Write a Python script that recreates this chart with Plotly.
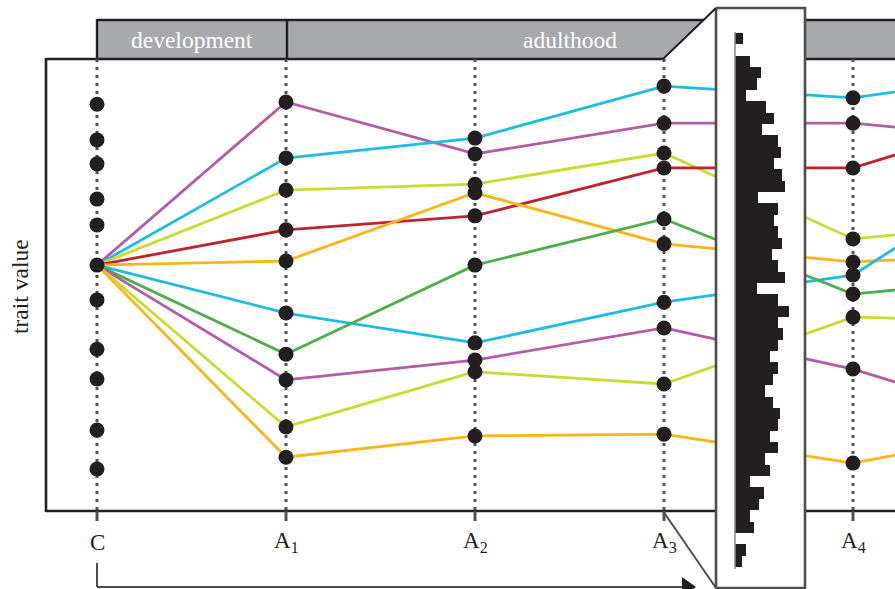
import plotly.graph_objects as go

# ---------------- data ----------------
STAGES = ["C", "A1", "A2", "A3", "A4", "A5"]          # A5 lies beyond the right edge
STAGE_POS = [0, 1, 2, 3, 4, 5]
TICK_LABELS = ["C", "A<sub>1</sub>", "A<sub>2</sub>", "A<sub>3</sub>", "A<sub>4</sub>"]

C_DISTRIBUTION = [9.00, 8.21, 7.68, 6.90, 6.33, 5.44, 4.67, 3.58, 2.92, 1.79, 0.93]

magenta_1 = [5.44, 9.05, 7.90, 8.58, 8.58, 8.19]
cyan_1    = [5.44, 7.81, 8.25, 9.40, 9.14, 9.73]
lime_1    = [5.44, 7.10, 7.23, 7.92, 6.02, 6.42]
red_1     = [5.44, 6.22, 6.53, 7.59, 7.59, 8.87]
orange_1  = [5.44, 5.53, 7.04, 5.91, 5.51, 5.71]
cyan_2    = [5.44, 4.38, 3.72, 4.62, 5.22, 7.90]
green_1   = [5.44, 3.47, 5.44, 6.46, 4.80, 5.20]
magenta_2 = [5.44, 2.90, 3.34, 4.05, 3.14, 1.85]
lime_2    = [5.44, 1.86, 3.08, 2.81, 4.29, 4.18]
orange_2  = [5.44, 1.19, 1.66, 1.70, 1.06, 1.86]

SERIES = [magenta_1, cyan_1, lime_1, red_1, orange_1,
          cyan_2, green_1, magenta_2, lime_2, orange_2]
SERIES_COLORS = ["#B35BA5", "#1CBCE4", "#C9DB2F", "#C42130", "#FDB515",
                 "#1CBCE4", "#4DAE4A", "#B35BA5", "#C9DB2F", "#FDB515"]

# histogram of adult trait values (top bin first)
HIST_COUNTS = [8, 0, 15, 26, 22, 11, 31, 39, 27, 43, 46, 39, 47, 50, 23, 43,
               39, 43, 47, 37, 43, 50, 22, 43, 54, 43, 48, 43, 35, 43, 38, 30,
               38, 45, 43, 35, 43, 30, 35, 15, 29, 24, 15, 19, 0, 11, 7]

HEADER_LABELS = ["development", "adulthood"]
Y_TITLE = "trait value"

# ---------------- geometry helpers (pixel -> data) ----------------
W, H = 895, 589
def X(px):
    return (px - 97) / 189.0
def Y(py):
    return (511 - py) / 45.2

INK = "#231f20"
GREY = "#4d4d4d"
HEADER_FILL = "#a7a9ac"
SERIF = "Liberation Serif, Times New Roman, serif"

fig = go.Figure()

# dotted stage lines
vx, vy = [], []
for p in STAGE_POS[:5]:
    vx += [p, p, None]
    vy += [Y(59), Y(511), None]
fig.add_trace(go.Scatter(x=vx, y=vy, mode="lines", hoverinfo="skip",
                         line=dict(color="#505050", width=3, dash="3px,5px")))

# coloured trajectories
for vals, col in zip(SERIES, SERIES_COLORS):
    fig.add_trace(go.Scatter(x=STAGE_POS, y=vals, mode="lines",
                             line=dict(color=col, width=2.8), hoverinfo="skip"))

# black points
px_, py_ = [], []
for v in C_DISTRIBUTION:
    px_.append(STAGE_POS[0]); py_.append(v)
for vals in SERIES:
    for p, v in zip(STAGE_POS[1:5], vals[1:5]):
        px_.append(p); py_.append(v)
fig.add_trace(go.Scatter(x=px_, y=py_, mode="markers", hoverinfo="skip",
                         marker=dict(color=INK, size=15, line=dict(width=0))))

# inset box (white, covers the lines)
bx = [X(716), X(805), X(805), X(716), X(716)]
by = [Y(8), Y(8), Y(588), Y(588), Y(8)]
fig.add_trace(go.Scatter(x=bx, y=by, mode="lines", fill="toself",
                         fillcolor="white", line=dict(color=GREY, width=2.6),
                         hoverinfo="skip"))

# histogram in the inset
fig.add_trace(go.Bar(x=HIST_COUNTS, y=list(range(len(HIST_COUNTS))),
                     orientation="h", width=1.0, xaxis="x2", yaxis="y2",
                     marker=dict(color=INK, line=dict(width=0)),
                     hoverinfo="skip"))

shapes = []
# header bar (left part with slanted cut)
shapes.append(dict(type="path", xref="x", yref="y", layer="below",
                   path=f"M {X(97)},{Y(20)} L {X(703.5)},{Y(20)} L {X(663)},{Y(59)} L {X(97)},{Y(59)} Z",
                   fillcolor=HEADER_FILL, line=dict(width=0)))
shapes.append(dict(type="rect", xref="x", yref="y", layer="below",
                   x0=X(805), x1=X(900), y0=Y(20), y1=Y(59),
                   fillcolor=HEADER_FILL, line=dict(width=0)))
# header borders
def seg(x0, y0, x1, y1, color=INK, width=2.4, layer="below"):
    shapes.append(dict(type="line", xref="x", yref="y", layer=layer,
                       x0=X(x0), y0=Y(y0), x1=X(x1), y1=Y(y1),
                       line=dict(color=color, width=width)))
seg(97, 20, 703.5, 20)
seg(97, 19, 97, 59)
seg(287, 20, 287, 59)
seg(805, 20, 900, 20)
# frame
seg(46, 59, 663, 59, width=2.6)
seg(805, 59, 900, 59, width=2.6)
seg(46, 58, 46, 512, width=2.6)
seg(46, 511, 900, 511, width=2.6)
# zoom slant lines
seg(663, 59, 716, 8, color=INK, width=2, layer="above")
seg(663, 511, 716, 588, color=GREY, width=2, layer="above")
# ticks
for p in STAGE_POS[:5]:
    shapes.append(dict(type="line", xref="x", yref="y", layer="below",
                       x0=p, x1=p, y0=Y(511), y1=Y(521),
                       line=dict(color="#505050", width=3)))
# histogram baseline
seg(735, 32, 735, 569, color="#8a8a8a", width=1.5, layer="above")
# bottom time arrow
seg(97, 563, 97, 587, color=GREY, width=2)
seg(97, 587, 684, 587, color=GREY, width=2)
shapes.append(dict(type="path", xref="x", yref="y", layer="above",
                   path=f"M {X(682)},{Y(577)} L {X(696)},{Y(587)} L {X(682)},{Y(597)} Z",
                   fillcolor=INK, line=dict(width=0)))

annotations = []
for p, lab in zip(STAGE_POS[:5], TICK_LABELS):
    annotations.append(dict(x=p, y=Y(542), xref="x", yref="y", text=lab,
                            showarrow=False, xanchor="center", yanchor="middle",
                            font=dict(family=SERIF, size=23, color=INK)))
annotations.append(dict(x=X(192), y=Y(40), xref="x", yref="y", text=HEADER_LABELS[0],
                        showarrow=False, font=dict(family=SERIF, size=23.5, color="white")))
annotations.append(dict(x=X(570), y=Y(40), xref="x", yref="y", text=HEADER_LABELS[1],
                        showarrow=False, font=dict(family=SERIF, size=23.5, color="white")))
annotations.append(dict(x=X(20), y=Y(287), xref="x", yref="y", text=Y_TITLE,
                        showarrow=False, textangle=-90,
                        font=dict(family=SERIF, size=23.5, color=INK)))

fig.update_layout(
    width=W, height=H, margin=dict(l=0, r=0, t=0, b=0),
    paper_bgcolor="white", plot_bgcolor="rgba(0,0,0,0)",
    showlegend=False, bargap=0,
    xaxis=dict(range=[X(0), X(W)], visible=False, fixedrange=True, domain=[0, 1]),
    yaxis=dict(range=[Y(H), Y(0)], visible=False, fixedrange=True, domain=[0, 1]),
    xaxis2=dict(domain=[735 / W, 835 / W], range=[0, 100], visible=False,
                anchor="y2", fixedrange=True),
    yaxis2=dict(domain=[1 - 567 / H, 1 - 33 / H], range=[len(HIST_COUNTS) - 0.5, -0.5],
                visible=False, anchor="x2", fixedrange=True),
    shapes=shapes, annotations=annotations,
)

fig.write_html("out.html", config={"displayModeBar": False},
               post_script="document.body.style.margin='0px';document.body.style.overflow='hidden';")
